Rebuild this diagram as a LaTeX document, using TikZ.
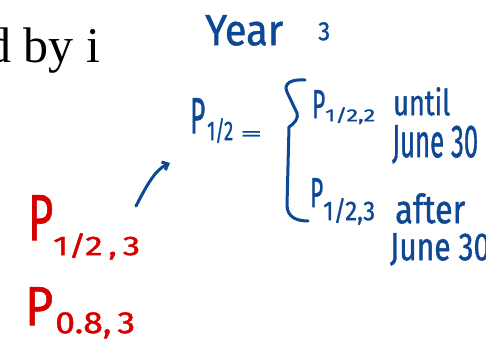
\documentclass[tikz,border=0pt]{standalone}
\usepackage{fontspec}
\usepackage{graphicx}
\newfontfamily\handfont{Fira Sans}[FakeBold=1.2]
\newfontfamily\slidefont{Liberation Serif}
\usetikzlibrary{positioning,arrows.meta}

\definecolor{handblue}{RGB}{14,72,148}
\definecolor{handred}{RGB}{214,0,0}
% scale a handwritten chunk to its ink box (width, height in pt)
\newcommand{\ink}[3]{\resizebox{#1pt}{#2pt}{#3}}

\begin{document}
\begin{tikzpicture}[
    x=1pt, y=-1pt,
    hand/.style ={font=\handfont, text=handblue, inner sep=0pt,
                  anchor=north west},
    redhand/.style={hand, text=handred},
    pen/.style  ={draw=handblue, line width=3pt, line cap=round,
                  line join=round},
    slide/.style={font=\slidefont\fontsize{50}{60}\selectfont,
                  inner sep=0pt, anchor=base west}
  ]
  \useasboundingbox (0,0) rectangle (486,343);

  % slide text, cut at the left edge
  \node[slide] (slidetext) at (-14,62) {d by i};

  % blue notes
  \node[hand] (yearword) at (205,15)  {\ink{78}{30}{Year}};
  \node[hand] (yearnum)  at (318,22)  {\ink{12}{18}{3}};

  \node[hand] (lhsP)     at (190,98)  {\ink{15}{35}{P}};
  \node[hand] (lhssub)   at (207,118) {\ink{26}{22}{1/2}};
  \node[hand] (eq)       at (240,131) {\ink{22}{9}{=}};

  \node[hand] (topP)     at (312,90)  {\ink{13}{28}{P}};
  \node[hand] (topsub)   at (325,107) {\ink{50}{14}{1/2,2}};
  \node[hand] (until)    at (393,87)  {\ink{57}{28}{until}};
  \node[hand] (june1)    at (392,125) {\ink{86}{32}{June 30}};

  \node[hand] (botP)     at (310,178) {\ink{13}{29}{P}};
  \node[hand] (botsub)   at (323,198) {\ink{52}{22}{1/2,3}};
  \node[hand] (after)    at (395,193) {\ink{70}{30}{after}};
  \node[hand] (june2)    at (390,233) {\ink{100}{27}{June 30}};

  % brace
  \draw[pen] (305,80) .. controls (292,79) and (283,83) .. (287,92)
             -- (297,113) .. controls (299,118) and (294,124) .. (289,127)
             -- (287,205) .. controls (287,218) and (298,221) .. (308,221);

  % red notes
  \node[redhand] (halfP)   at (28,195)  {\ink{25}{45}{P}};
  \node[redhand] (halfsub) at (53,233)  {\ink{87}{22}{1/2\,,\,3}};
  \node[redhand] (eightP)  at (25,287)  {\ink{28}{38}{P}};
  \node[redhand] (eightsub) at (55,312) {\ink{80}{21}{0.8,\,3}};

  % arrow from red to blue
  \coordinate (arrtail) at (136,206);
  \coordinate (arrhead) at (170,163);
  \draw[pen, -{Straight Barb[length=5pt,width=9pt]}]
    (arrtail) .. controls (147,185) and (155,170) .. (arrhead);
\end{tikzpicture}
\end{document}
